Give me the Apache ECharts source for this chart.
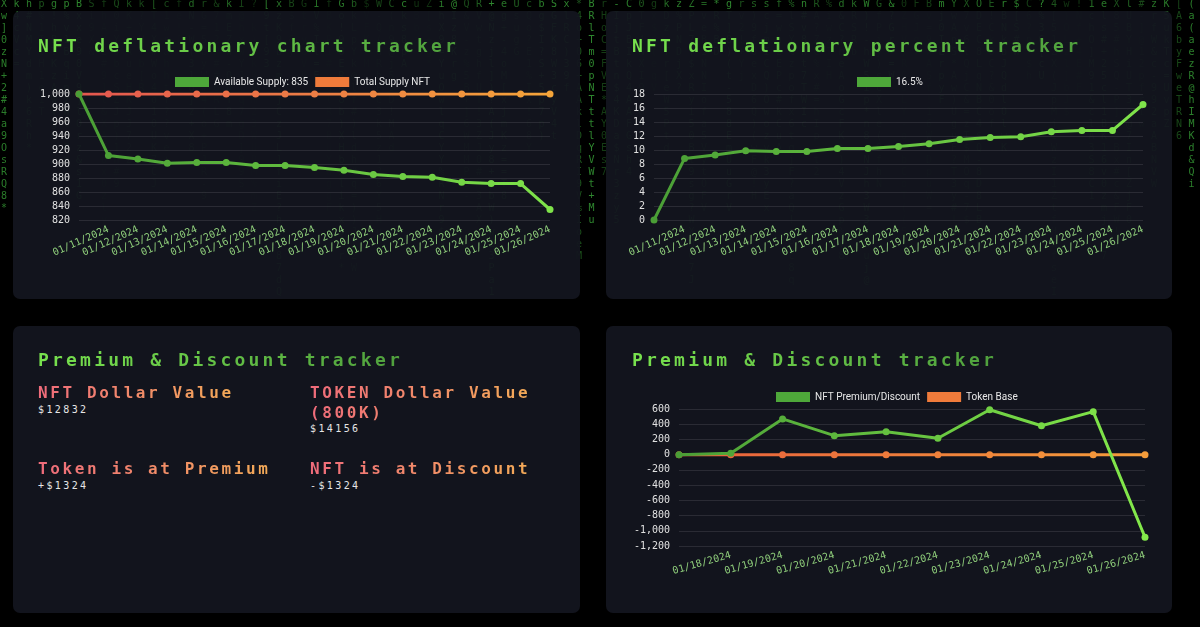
<!DOCTYPE html>
<html><head><meta charset="utf-8">
<script src="https://cdn.jsdelivr.net/npm/echarts/dist/echarts.min.js"></script>
<style>
html,body{margin:0;padding:0;background:#000;width:1200px;height:627px;overflow:hidden;position:relative;}
#rain{position:absolute;left:0;top:0;width:1200px;height:627px;overflow:hidden;font:10px/12px "DejaVu Sans Mono",monospace;}
.col{position:absolute;top:-2px;white-space:pre;color:#3cae3c;}
.card{position:absolute;background:rgba(19,21,31,0.95);border-radius:7px;}
.chart{position:absolute;left:0;top:0;width:100%;height:100%;}
.title{position:absolute;font-family:"DejaVu Sans Mono",monospace;font-weight:bold;font-size:18px;line-height:20px;letter-spacing:3.2px;white-space:nowrap;
  background:linear-gradient(90deg,#78e24e,#4f9f3d);-webkit-background-clip:text;background-clip:text;color:transparent;z-index:2;}
.lbl{position:absolute;display:inline-block;font-family:"DejaVu Sans Mono",monospace;font-weight:bold;font-size:16px;line-height:20px;letter-spacing:2.6px;white-space:nowrap;
  background:linear-gradient(90deg,#ef6b7b,#f3aa57);-webkit-background-clip:text;background-clip:text;color:transparent;}
.val{position:absolute;font:10px/12px "DejaVu Sans Mono",monospace;letter-spacing:2.4px;color:#e6e6e6;white-space:nowrap;}
</style></head>
<body>
<div id="rain"></div>

<div class="card" style="left:13px;top:11px;width:567px;height:288px;">
  <div class="title" style="left:25px;top:25px;">NFT deflationary chart tracker</div>
  <div id="c1" class="chart"></div>
</div>
<div class="card" style="left:606px;top:11px;width:566px;height:288px;">
  <div class="title" style="left:26px;top:25px;">NFT deflationary percent tracker</div>
  <div id="c2" class="chart"></div>
</div>
<div class="card" style="left:13px;top:326px;width:567px;height:287px;">
  <div class="title" style="left:25px;top:24px;">Premium &amp; Discount tracker</div>
  <div class="lbl" style="left:25px;top:57px;">NFT Dollar Value</div>
  <div class="val" id="nftVal" style="left:25px;top:78px;"></div>
  <div class="lbl" style="left:297px;top:57px;">TOKEN Dollar Value<br>(800K)</div>
  <div class="val" id="tokVal" style="left:297px;top:97px;"></div>
  <div class="lbl" style="left:25px;top:133px;">Token is at Premium</div>
  <div class="val" id="premVal" style="left:25px;top:154px;"></div>
  <div class="lbl" style="left:297px;top:133px;">NFT is at Discount</div>
  <div class="val" id="discVal" style="left:297px;top:154px;"></div>
</div>
<div class="card" style="left:606px;top:326px;width:566px;height:287px;">
  <div class="title" style="left:26px;top:24px;">Premium &amp; Discount tracker</div>
  <div id="c4" class="chart"></div>
</div>

<script>
// ---------- DATA ----------
const supplyDates = ['', '01/11/2024', '01/12/2024', '01/13/2024', '01/14/2024', '01/15/2024', '01/16/2024', '01/17/2024', '01/18/2024', '01/19/2024', '01/20/2024', '01/21/2024', '01/22/2024', '01/23/2024', '01/24/2024', '01/25/2024', '01/26/2024'];
const availableSupply = [1000, 912, 907, 901, 902, 902, 898, 898, 895, 891, 885, 882, 881, 874, 872, 872, 835];
const totalSupply = [1000, 1000, 1000, 1000, 1000, 1000, 1000, 1000, 1000, 1000, 1000, 1000, 1000, 1000, 1000, 1000, 1000];
const deflationPercent = [0, 8.8, 9.3, 9.9, 9.8, 9.8, 10.2, 10.2, 10.5, 10.9, 11.5, 11.8, 11.9, 12.6, 12.8, 12.8, 16.5];
const premiumDates = ['', '01/18/2024', '01/19/2024', '01/20/2024', '01/21/2024', '01/22/2024', '01/23/2024', '01/24/2024', '01/25/2024', '01/26/2024'];
const nftPremium = [0, 20, 470, 250, 300, 215, 590, 380, 565, -1085];
const tokenBase = [0, 0, 0, 0, 0, 0, 0, 0, 0, 0];
const nftDollarValue = '$12832';
const tokenDollarValue = '$14156';
const tokenPremium = '+$1324';
const nftDiscount = '-$1324';
const supplyTicks = {min: 820, max: 1000, interval: 20};
const percentTicks = {min: 0, max: 18, interval: 2};
const premiumTicks = {min: -1200, max: 600, interval: 200};

document.getElementById('nftVal').textContent = nftDollarValue;
document.getElementById('tokVal').textContent = tokenDollarValue;
document.getElementById('premVal').textContent = tokenPremium;
document.getElementById('discVal').textContent = nftDiscount;

// ---------- decorative background rain ----------
(function(){
  const pool = 'ABCDEFGHIJKLMNOPQRSTUVWXYZabcdefghijklmnopqrstuvwxyz0123456789@#$%&*+-=?!()[]';
  let s = 12345;
  const nx = () => { s = (s * 1103515245 + 12345) % 2147483648; return s / 2147483648; };
  const rain = document.getElementById('rain');
  for (let x = 1; x < 1200; x += 12.5) {
    const len = 4 + Math.floor(nx() * 22);
    let txt = '';
    for (let r = 0; r < len; r++) txt += pool[Math.floor(nx() * pool.length)] + '\n';
    const d = document.createElement('div');
    d.className = 'col';
    d.style.left = x + 'px';
    d.style.opacity = (0.25 + nx() * 0.55).toFixed(2);
    d.textContent = txt;
    rain.appendChild(d);
  }
})();

// ---------- charts ----------
function hex(c){ return [parseInt(c.slice(1,3),16), parseInt(c.slice(3,5),16), parseInt(c.slice(5,7),16)]; }
function lerp(a, b, t){ const A = hex(a), B = hex(b); return 'rgb(' + A.map((v,i)=>Math.round(v + (B[i]-v)*t)).join(',') + ')'; }
function grad(a, b){ return new echarts.graphic.LinearGradient(0,0,1,0,[{offset:0,color:a},{offset:1,color:b}]); }

function lineSeries(name, data, c0, c1, z){
  const n = data.length;
  return {
    name: name, type: 'line', data: data, z: z,
    symbol: 'circle', symbolSize: 7, showSymbol: true,
    lineStyle: {width: 3, color: grad(c0, c1)},
    itemStyle: {color: p => lerp(c0, c1, p.dataIndex / (n - 1))},
    emphasis: {disabled: true}
  };
}

const monoFont = '"DejaVu Sans Mono", monospace';
function baseOption(cfg){
  return {
    animation: false,
    grid: cfg.grid,
    legend: {
      left: cfg.legendLeft, top: cfg.legendTop, padding: 0, icon: 'rect', itemWidth: 34, itemHeight: 10, itemGap: 7,
      textStyle: {color: '#e8e8e8', fontFamily: '"Liberation Sans Narrow", Roboto, "Liberation Sans", sans-serif', fontSize: 10},
      data: cfg.legendData, selectedMode: false
    },
    xAxis: {
      type: 'category', data: cfg.categories, boundaryGap: false,
      axisLine: {show: false}, axisTick: {show: false}, splitLine: {show: false},
      axisLabel: {interval: 0, rotate: cfg.rotate, margin: 9, color: '#8fce7b', fontFamily: monoFont, fontSize: 10}
    },
    yAxis: {
      type: 'value', min: cfg.ticks.min, max: cfg.ticks.max, interval: cfg.ticks.interval,
      axisLine: {show: false}, axisTick: {show: false},
      splitLine: {lineStyle: {color: 'rgba(255,255,255,0.1)', width: 1}},
      axisLabel: {margin: 9, color: '#e0e0e0', fontFamily: monoFont, fontSize: 10,
        formatter: v => v.toLocaleString('en-US')}
    },
    series: cfg.series
  };
}

const GREEN = '#4ea83a', ORANGE = '#ef7b3b';

echarts.init(document.getElementById('c1')).setOption(baseOption({
  grid: {left: 66, right: 30, top: 83, height: 126},
  legendLeft: 162, legendTop: 66, rotate: 24,
  legendData: [
    {name: 'Available Supply: ' + availableSupply[availableSupply.length - 1], itemStyle: {color: GREEN}},
    {name: 'Total Supply NFT', itemStyle: {color: ORANGE}}
  ],
  categories: supplyDates, ticks: supplyTicks,
  series: [
    lineSeries('Available Supply: ' + availableSupply[availableSupply.length - 1], availableSupply, '#4a9e36', '#7fe34a', 3),
    lineSeries('Total Supply NFT', totalSupply, '#e4564f', '#f5a53a', 2)
  ]
}));

echarts.init(document.getElementById('c2')).setOption(baseOption({
  grid: {left: 48, right: 29, top: 83, height: 126},
  legendLeft: 251, legendTop: 66, rotate: 24,
  legendData: [{name: deflationPercent[deflationPercent.length - 1] + '%', itemStyle: {color: GREEN}}],
  categories: supplyDates, ticks: percentTicks,
  series: [lineSeries(deflationPercent[deflationPercent.length - 1] + '%', deflationPercent, '#4a9e36', '#80e44b', 3)]
}));

echarts.init(document.getElementById('c4')).setOption(baseOption({
  grid: {left: 73, right: 27, top: 83, height: 137},
  legendLeft: 170, legendTop: 66, rotate: 16,
  legendData: [
    {name: 'NFT Premium/Discount', itemStyle: {color: GREEN}},
    {name: 'Token Base', itemStyle: {color: ORANGE}}
  ],
  categories: premiumDates, ticks: premiumTicks,
  series: [
    lineSeries('NFT Premium/Discount', nftPremium, '#4a9e36', '#84ea4b', 3),
    lineSeries('Token Base', tokenBase, '#e85f3c', '#f59d3b', 2)
  ]
}));
</script>
</body></html>
